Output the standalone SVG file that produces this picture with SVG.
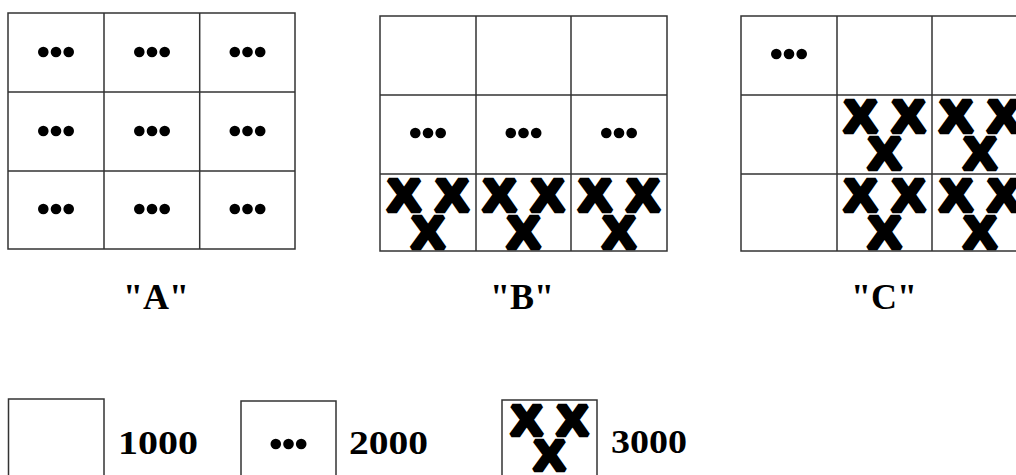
<svg xmlns="http://www.w3.org/2000/svg" xmlns:xlink="http://www.w3.org/1999/xlink" width="1016" height="475" viewBox="0 0 1016 475">
  <style>
    .ln { fill: none; stroke: #333; stroke-width: 1.5; }
    .lbl { font-family: "Liberation Serif", "Times New Roman", serif; font-weight: bold; font-size: 36px; fill: #000; text-anchor: middle; }
    .num { font-family: "Liberation Serif", "Times New Roman", serif; font-weight: bold; font-size: 33px; fill: #000; }
    .x { font-family: "Liberation Sans", Arial, sans-serif; font-weight: bold; font-size: 44px; fill: #000; stroke: #000; stroke-width: 4.5; stroke-linejoin: miter; stroke-miterlimit: 2; text-anchor: middle; }
  </style>
  <defs>
    <g id="dots">
      <circle cx="-12.7" cy="0" r="5.3" fill="#000"/>
      <circle cx="0" cy="0" r="5.3" fill="#000"/>
      <circle cx="12.7" cy="0" r="5.3" fill="#000"/>
    </g>
    <g id="xxx">
      <text class="x" x="-24" y="37" textLength="33" lengthAdjust="spacingAndGlyphs">X</text>
      <text class="x" x="24" y="37" textLength="33" lengthAdjust="spacingAndGlyphs">X</text>
      <text class="x" x="0" y="74" textLength="33" lengthAdjust="spacingAndGlyphs">X</text>
    </g>
  </defs>
  <rect width="1016" height="475" fill="#fff"/>

  <g id="gridA">
    <rect class="ln" x="8" y="13" width="287" height="236"/>
    <path class="ln" d="M104 13V249M199.7 13V249M8 92H295M8 171H295"/>
    <use xlink:href="#dots" x="56" y="52"/>
    <use xlink:href="#dots" x="152" y="52"/>
    <use xlink:href="#dots" x="247.5" y="52"/>
    <use xlink:href="#dots" x="56" y="131"/>
    <use xlink:href="#dots" x="152" y="131"/>
    <use xlink:href="#dots" x="247.5" y="131"/>
    <use xlink:href="#dots" x="56" y="209"/>
    <use xlink:href="#dots" x="152" y="209"/>
    <use xlink:href="#dots" x="247.5" y="209"/>
    <text class="lbl" x="156" y="309">"A"</text>
  </g>

  <g id="gridB">
    <rect class="ln" x="380" y="16" width="287" height="235"/>
    <path class="ln" d="M476 16V251M571 16V251M380 95H667M380 174H667"/>
    <use xlink:href="#dots" x="428" y="133"/>
    <use xlink:href="#dots" x="523.5" y="133"/>
    <use xlink:href="#dots" x="619" y="133"/>
    <use xlink:href="#xxx" x="428" y="174"/>
    <use xlink:href="#xxx" x="523.5" y="174"/>
    <use xlink:href="#xxx" x="619" y="174"/>
    <text class="lbl" x="522" y="309">"B"</text>
  </g>

  <g id="gridC">
    <rect class="ln" x="741" y="16" width="287" height="235"/>
    <path class="ln" d="M837 16V251M932 16V251M741 95H1028M741 174H1028"/>
    <use xlink:href="#dots" x="789" y="54"/>
    <use xlink:href="#xxx" x="884.5" y="95"/>
    <use xlink:href="#xxx" x="980" y="95"/>
    <use xlink:href="#xxx" x="884.5" y="174"/>
    <use xlink:href="#xxx" x="980" y="174"/>
    <text class="lbl" x="884" y="309">"C"</text>
  </g>

  <g id="legend1000">
    <rect class="ln" x="8.5" y="399" width="95.5" height="85"/>
    <text class="num" x="118" y="454" textLength="80" lengthAdjust="spacingAndGlyphs">1000</text>
  </g>
  <g id="legend2000">
    <rect class="ln" x="241" y="401" width="95" height="85"/>
    <use xlink:href="#dots" x="288.5" y="444"/>
    <text class="num" x="349" y="454" textLength="79" lengthAdjust="spacingAndGlyphs">2000</text>
  </g>
  <g id="legend3000">
    <rect class="ln" x="502" y="400" width="95" height="85"/>
    <g transform="translate(549.5 400) scale(0.95)">
      <use xlink:href="#xxx"/>
    </g>
    <text class="num" x="611" y="453" textLength="76" lengthAdjust="spacingAndGlyphs">3000</text>
  </g>

  <g id="connectors"/>
</svg>
